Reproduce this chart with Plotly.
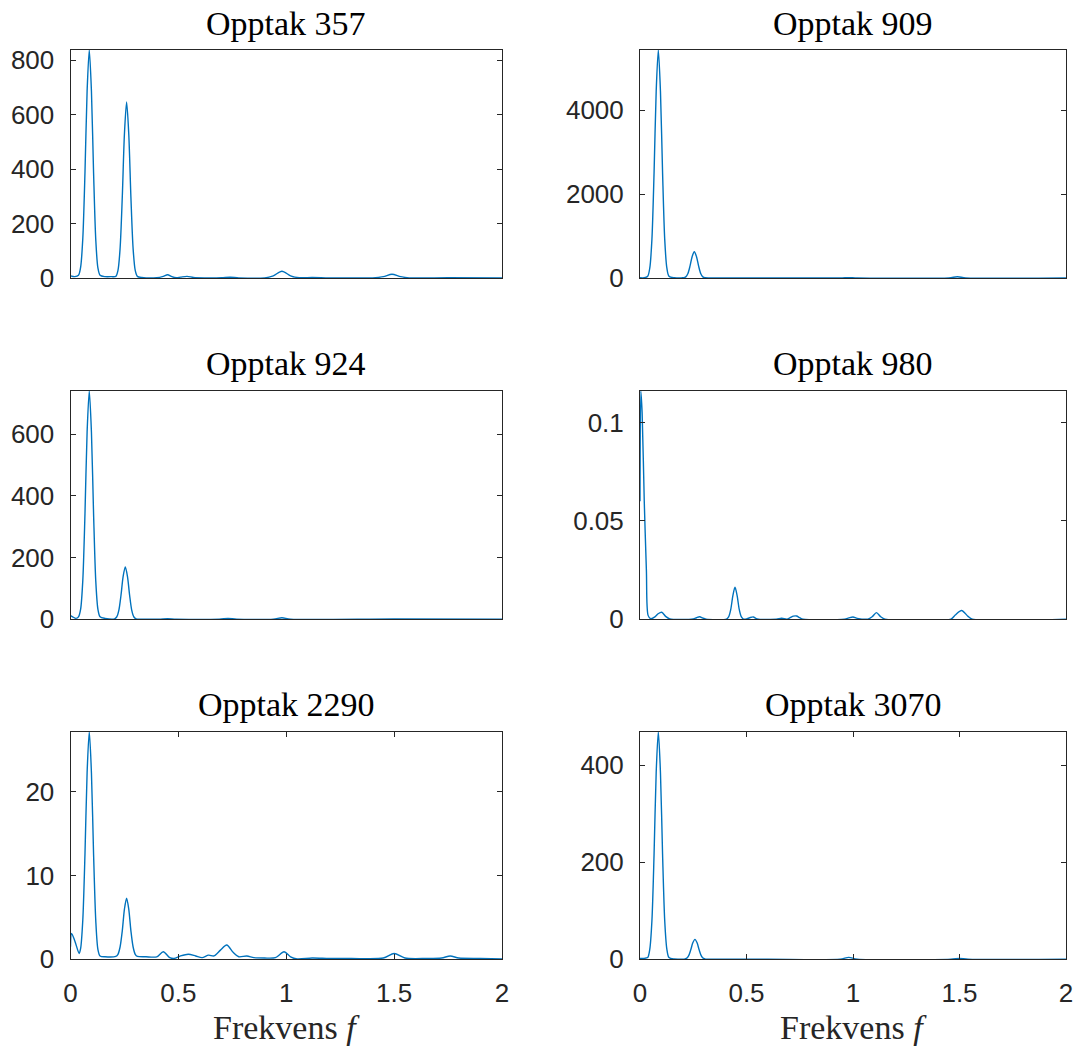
import plotly.graph_objects as go

# ---------------- data ----------------
titles = ["Opptak 357", "Opptak 909", "Opptak 924", "Opptak 980", "Opptak 2290", "Opptak 3070"]

freq_357 = [0, 0.02, 0.037, 0.047, 0.057, 0.067, 0.077, 0.087, 0.097, 0.107, 0.117, 0.127, 0.137, 0.16, 0.19,
            0.21, 0.22, 0.23, 0.24, 0.25, 0.26, 0.27, 0.28, 0.29, 0.30, 0.31, 0.33, 0.40, 0.43, 0.45, 0.47, 0.49,
            0.51, 0.54, 0.57, 0.62, 0.70, 0.74, 0.78, 0.90, 0.94, 0.98, 1.02, 1.06, 1.12, 1.2, 1.40, 1.45, 1.49,
            1.53, 1.57, 1.75, 2.0]
amp_357 = [8, 5, 10, 40, 145, 385, 687, 838, 687, 385, 143, 37, 10, 5, 5,
           6, 28, 110, 297, 530, 647, 530, 297, 110, 28, 6, 2, 1, 6, 12, 5, 1,
           3, 6, 2, 0.5, 1, 3, 0.5, 0.5, 8, 25, 8, 1, 2, 0.5, 0.5, 5, 14,
           5, 0.5, 1, 0.5]

freq_909 = [0, 0.02, 0.036, 0.046, 0.056, 0.066, 0.076, 0.086, 0.096, 0.106, 0.116, 0.126, 0.136, 0.16, 0.20,
            0.205, 0.215, 0.225, 0.235, 0.245, 0.255, 0.265, 0.275, 0.285, 0.295, 0.305, 0.33, 0.5, 0.94, 0.98,
            1.02, 1.45, 1.49, 1.53, 2.0]
amp_909 = [5, 5, 40, 240, 925, 2500, 4450, 5430, 4450, 2500, 925, 240, 40, 5, 5,
           5, 27, 107, 288, 513, 626, 513, 288, 107, 27, 5, 1, 1, 2, 10,
           2, 3, 30, 3, 1]

freq_924 = [0, 0.01, 0.025, 0.037, 0.047, 0.057, 0.067, 0.077, 0.087, 0.097, 0.107, 0.117, 0.127, 0.137, 0.16,
            0.204, 0.214, 0.224, 0.234, 0.244, 0.254, 0.264, 0.274, 0.284, 0.294, 0.304, 0.33, 0.41, 0.45, 0.49,
            0.69, 0.73, 0.77, 0.94, 0.98, 1.02, 1.5, 2.0]
amp_924 = [12, 8, 3, 8, 33, 126, 340, 607, 740, 607, 340, 126, 33, 8, 3,
           1.5, 7.5, 29, 78, 139, 170, 139, 78, 29, 7.5, 1.5, 0.5, 0.5, 2, 0.5,
           0.5, 3, 0.5, 0.5, 5, 0.5, 1, 0.3]

freq_980 = [0, 0.004, 0.01, 0.02, 0.03, 0.038, 0.05, 0.07, 0.085, 0.102, 0.12, 0.14, 0.25, 0.265, 0.28, 0.295,
            0.31, 0.406, 0.416, 0.426, 0.436, 0.446, 0.456, 0.466, 0.476, 0.486, 0.50, 0.515, 0.532, 0.55, 0.64,
            0.665, 0.69, 0.705, 0.72, 0.735, 0.75, 0.765, 0.96, 0.98, 1.0, 1.02, 1.07, 1.09, 1.11, 1.13, 1.15,
            1.46, 1.48, 1.51, 1.54, 1.56, 2.0]
amp_980 = [0.06, 0.116, 0.105, 0.06, 0.025, 0.002, 0.0003, 0.0012, 0.0028, 0.0036, 0.0015, 0.0002, 0.0002, 0.0008,
           0.0013, 0.0006, 0.0001, 0.0001, 0.0012, 0.005, 0.012, 0.0163, 0.012, 0.005, 0.0012, 0.0001, 0.0002,
           0.0008, 0.0012, 0.0002, 0.0001, 0.0005, 0.0001, 0.0008, 0.0016, 0.0017, 0.0008, 0.0001, 0.0001,
           0.0007, 0.0012, 0.0005, 0.0001, 0.0013, 0.0034, 0.0013, 0.0001, 0.0001, 0.0022, 0.0045, 0.0015,
           0.0001, 0.0001]

freq_2290 = [0, 0.005, 0.02, 0.04, 0.047, 0.057, 0.067, 0.077, 0.087, 0.097, 0.107, 0.117, 0.127, 0.137, 0.16,
             0.21, 0.22, 0.23, 0.24, 0.25, 0.26, 0.27, 0.28, 0.29, 0.30, 0.31, 0.35, 0.40, 0.43, 0.46, 0.48,
             0.51, 0.546, 0.58, 0.61, 0.64, 0.665, 0.695, 0.724, 0.755, 0.78, 0.817, 0.85, 0.90, 0.95, 0.99,
             1.02, 1.05, 1.12, 1.2, 1.3, 1.45, 1.50, 1.55, 1.65, 1.72, 1.76, 1.80, 1.9, 2.0]
amp_2290 = [1.5, 3.1, 2.2, 0.7, 1.3, 4.7, 12.5, 22.3, 27.2, 22.3, 12.5, 4.7, 1.2, 0.4, 0.3,
            0.35, 0.6, 1.5, 3.4, 6.0, 7.3, 6.0, 3.4, 1.5, 0.6, 0.35, 0.3, 0.3, 0.9, 0.2, 0.1,
            0.4, 0.6, 0.4, 0.2, 0.5, 0.4, 1.1, 1.7, 0.8, 0.3, 0.4, 0.2, 0.15, 0.2, 0.9,
            0.3, 0.05, 0.15, 0.1, 0.1, 0.15, 0.7, 0.15, 0.1, 0.15, 0.4, 0.15, 0.1, 0.05]

freq_3070 = [0, 0.02, 0.036, 0.046, 0.056, 0.066, 0.076, 0.086, 0.096, 0.106, 0.116, 0.126, 0.136, 0.16, 0.20,
             0.208, 0.218, 0.228, 0.238, 0.248, 0.258, 0.268, 0.278, 0.288, 0.298, 0.308, 0.34, 0.6, 0.94,
             0.98, 1.02, 1.46, 1.5, 1.54, 2.0]
amp_3070 = [2, 2, 3.5, 21, 80, 216, 385, 469, 385, 216, 80, 21, 3.5, 0.5, 0.3,
            0.3, 1.8, 7, 19, 34, 41, 34, 19, 7, 1.8, 0.3, 0.1, 0.1, 0.3,
            4, 0.3, 0.2, 2, 0.2, 0.1]

y_max = [838, 5430, 740, 0.1161, 27.2, 469]
y_ticks = [[0, 200, 400, 600, 800], [0, 2000, 4000], [0, 200, 400, 600],
           [0, 0.05, 0.1], [0, 10, 20], [0, 200, 400]]
y_ticktext = [["0", "200", "400", "600", "800"], ["0", "2000", "4000"], ["0", "200", "400", "600"],
              ["0", "0.05", "0.1"], ["0", "10", "20"], ["0", "200", "400"]]
x_ticks = [0, 0.5, 1, 1.5, 2]
x_ticktext = ["0", "0.5", "1", "1.5", "2"]
x_label = "Frekvens <i>f</i>"

series = [(freq_357, amp_357), (freq_909, amp_909), (freq_924, amp_924),
          (freq_980, amp_980), (freq_2290, amp_2290), (freq_3070, amp_3070)]

# ---------------- layout ----------------
W, H = 1090, 1049
col_px = [(70.5, 502.0), (640.0, 1066.0)]
row_px = [(50.0, 278.0), (391.0, 619.3), (731.7, 959.3)]
title_y_px = [24, 363, 704]
xlabel_y_px = 1027

LINE = "#0072BD"
AX = "#262626"
TICK_FONT = dict(family="Liberation Sans, Arial, sans-serif", size=26, color=AX)
SERIF = "Liberation Serif, Times New Roman, serif"

fig = go.Figure()
annotations = []
layout_axes = {}

for i, (fx, fy) in enumerate(series):
    r, c = divmod(i, 2)
    n = i + 1
    xa = "x" if n == 1 else f"x{n}"
    ya = "y" if n == 1 else f"y{n}"
    fig.add_trace(go.Scatter(x=fx, y=fy, mode="lines", xaxis=xa, yaxis=ya,
                             line=dict(color=LINE, width=1.4, shape="spline", smoothing=0.8),
                             showlegend=False, hoverinfo="x+y"))
    x0, x1 = col_px[c]
    t0, t1 = row_px[r]
    xdom = [x0 / W, x1 / W]
    ydom = [1 - t1 / H, 1 - t0 / H]
    bottom = (r == 2)
    xkey = "xaxis" if n == 1 else f"xaxis{n}"
    ykey = "yaxis" if n == 1 else f"yaxis{n}"
    layout_axes[xkey] = dict(
        domain=xdom, anchor=ya, range=[0, 2], showgrid=False, zeroline=False, automargin=False,
        showline=True, linecolor=AX, linewidth=1, mirror="ticks" if bottom else True,
        ticks="inside" if bottom else "", ticklen=5, tickcolor=AX, tickwidth=1,
        tickvals=x_ticks if bottom else [], ticktext=x_ticktext if bottom else [],
        showticklabels=bottom, tickfont=TICK_FONT, ticklabelstandoff=10,
    )
    layout_axes[ykey] = dict(
        domain=ydom, anchor=xa, range=[0, y_max[i]], showgrid=False, zeroline=False, automargin=False,
        showline=True, linecolor=AX, linewidth=1, mirror="ticks",
        ticks="inside", ticklen=5, tickcolor=AX, tickwidth=1,
        tickvals=y_ticks[i], ticktext=y_ticktext[i], tickfont=TICK_FONT,
        ticklabelstandoff=10,
    )
    annotations.append(dict(
        text=titles[i], x=(xdom[0] + xdom[1]) / 2, y=1 - title_y_px[r] / H,
        xref="paper", yref="paper", xanchor="center", yanchor="middle", showarrow=False,
        font=dict(family=SERIF, size=34, color="#000000"),
    ))
    if bottom:
        annotations.append(dict(
            text=x_label, x=(xdom[0] + xdom[1]) / 2, y=1 - xlabel_y_px / H,
            xref="paper", yref="paper", xanchor="center", yanchor="middle", showarrow=False,
            font=dict(family=SERIF, size=34, color=AX),
        ))

fig.update_layout(
    template="none",
    width=W, height=H, margin=dict(l=0, r=0, t=0, b=0, pad=0),
    paper_bgcolor="white", plot_bgcolor="white",
    annotations=annotations, showlegend=False,
    **layout_axes,
)

# remove the default 8px page margin so the figure fills the window exactly
fig.write_html("out.html", config={"displayModeBar": False},
               post_script="document.body.style.margin='0';")
